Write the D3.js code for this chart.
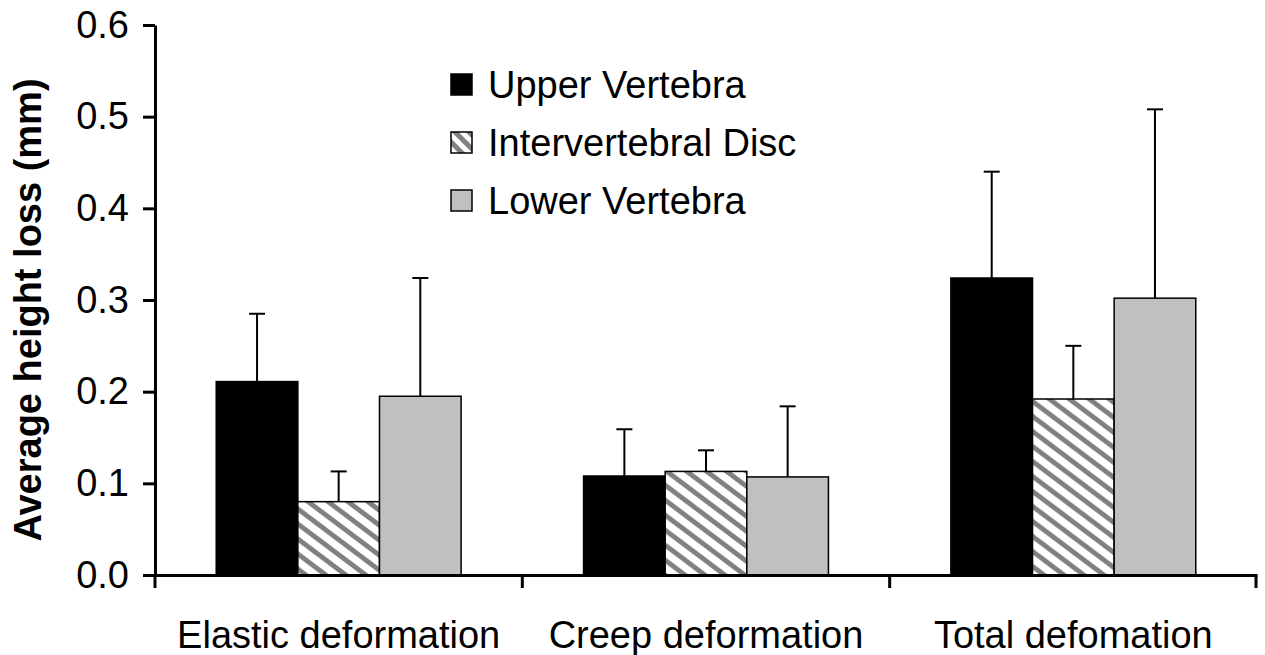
<!DOCTYPE html>
<head>
<meta charset="utf-8">
<style>
body, html {
  margin: 0;
  background: #fff;
  font-family: Arial, "Liberation Sans", sans-serif;
}
.axis path, .axis line {
  stroke: #000;
  stroke-width: 3px;
}
.axis text {
  font-size: 38px;
  fill: #000;
}
.bar {
  stroke: #000;
  stroke-width: 1.5px;
}
.err {
  stroke: #000;
  stroke-width: 2px;
}
</style>
<script src="https://d3js.org/d3.v7.min.js"></script>
</head>
<body>
<script>

//--------------------------------------
// data
var categories = ["Elastic deformation", "Creep deformation", "Total defomation"];
var series = ["Upper Vertebra", "Intervertebral Disc", "Lower Vertebra"];

var upperVals  = [0.211, 0.108, 0.324],
    upperErr   = [0.074, 0.051, 0.116];
var discVals   = [0.080, 0.113, 0.192],
    discErr    = [0.033, 0.023, 0.058];
var lowerVals  = [0.195, 0.107, 0.302],
    lowerErr   = [0.129, 0.077, 0.206];

var yTicks = [0, 0.1, 0.2, 0.3, 0.4, 0.5, 0.6];
var yTitle = "Average height loss (mm)";

//--------------------------------------
var width = 1265,
    height = 655,
    margin = {left: 155, right: 8, top: 25, bottom: 80};

var fills = ["#000", "url(#hatch)", "#c0c0c0"];

var table = series.map(function(s, i) {
  var v = [upperVals, discVals, lowerVals][i],
      e = [upperErr, discErr, lowerErr][i];
  return categories.map(function(c, j) {
    return {series: s, idx: i, cat: c, value: v[j], err: e[j]};
  });
});

var svg = d3.select("body").append("svg")
    .attr("width", width)
    .attr("height", height);

var defs = svg.append("defs");

// downward diagonal hatch, a little stretched sideways
function makeHatch(id, size, sx, sw) {
  var p = defs.append("pattern")
      .attr("id", id)
      .attr("patternUnits", "userSpaceOnUse")
      .attr("width", size)
      .attr("height", size)
      .attr("patternTransform", "scale(" + sx + ",1)");
  p.append("rect").attr("width", size).attr("height", size).attr("fill", "#fff");
  p.append("path")
      .attr("d", "M-2,-2L" + (size + 2) + "," + (size + 2) +
                 "M-2," + (size - 2) + "L2," + (size + 2) +
                 "M" + (size - 2) + ",-2L" + (size + 2) + ",2")
      .attr("stroke", "#808080")
      .attr("stroke-width", sw);
}
makeHatch("hatch", 15, 1.33, 4.3);
makeHatch("hatchSmall", 14, 1, 5);

var x0 = d3.scaleBand()
    .domain(categories)
    .range([margin.left, width - margin.right]);

// excel style gap: 150% of a bar width split on both sides
var barW = x0.bandwidth() / (series.length + 1.5);
var x1 = d3.scaleBand()
    .domain(series)
    .range([barW * 0.75, x0.bandwidth() - barW * 0.75]);

var y = d3.scaleLinear()
    .domain([0, 0.6])
    .range([height - margin.bottom, margin.top]);

//--------------------------------------
// bars
var groups = svg.selectAll("g.series")
    .data(table)
  .enter().append("g")
    .attr("class", "series");

groups.selectAll("rect")
    .data(function(d) { return d; })
  .enter().append("rect")
    .attr("class", "bar")
    .attr("x", function(d) { return x0(d.cat) + x1(d.series); })
    .attr("y", function(d) { return y(d.value); })
    .attr("width", x1.bandwidth())
    .attr("height", function(d) { return y(0) - y(d.value); })
    .attr("fill", function(d) { return fills[d.idx]; });

// error bars (plus side only)
var errs = groups.selectAll("g.errbar")
    .data(function(d) { return d; })
  .enter().append("g")
    .attr("class", "errbar");

errs.append("line")
    .attr("class", "err")
    .attr("x1", function(d) { return x0(d.cat) + x1(d.series) + x1.bandwidth() / 2; })
    .attr("x2", function(d) { return x0(d.cat) + x1(d.series) + x1.bandwidth() / 2; })
    .attr("y1", function(d) { return y(d.value); })
    .attr("y2", function(d) { return y(d.value + d.err); });

errs.append("line")
    .attr("class", "err")
    .attr("x1", function(d) { return x0(d.cat) + x1(d.series) + x1.bandwidth() / 2 - 8; })
    .attr("x2", function(d) { return x0(d.cat) + x1(d.series) + x1.bandwidth() / 2 + 8; })
    .attr("y1", function(d) { return y(d.value + d.err); })
    .attr("y2", function(d) { return y(d.value + d.err); });

//--------------------------------------
// axes
var yAxis = svg.append("g")
    .attr("class", "axis")
    .attr("transform", "translate(" + margin.left + ",0)")
    .call(d3.axisLeft(y).tickValues(yTicks).tickFormat(d3.format(".1f"))
      .tickSize(12).tickSizeOuter(0).tickPadding(14));

var xAxis = svg.append("g")
    .attr("class", "axis")
    .attr("transform", "translate(0," + y(0) + ")")
    .call(d3.axisBottom(x0).tickSize(0).tickSizeOuter(0).tickPadding(46));

// category separators
xAxis.selectAll("line.sep")
    .data(x0.domain().concat([null]))
  .enter().append("line")
    .attr("class", "sep")
    .attr("x1", function(d) { return d ? x0(d) : x0.range()[1] - 1; })
    .attr("x2", function(d) { return d ? x0(d) : x0.range()[1] - 1; })
    .attr("y1", 0)
    .attr("y2", 13);

svg.selectAll(".axis text").attr("font-family", null);

svg.append("text")
    .attr("transform", "translate(41," + ((y(0) + y(0.6)) / 2 + 10) + ") rotate(-90)")
    .attr("text-anchor", "middle")
    .style("font-size", "38px")
    .style("font-weight", "bold")
    .text(yTitle);

//--------------------------------------
// legend
var legend = svg.append("g")
    .attr("transform", "translate(451,84)");

var item = legend.selectAll("g")
    .data(series)
  .enter().append("g")
    .attr("transform", function(d, i) { return "translate(0," + (i * 58) + ")"; });

item.append("rect")
    .attr("x", 0)
    .attr("y", -10)
    .attr("width", 21)
    .attr("height", 21)
    .attr("stroke", "#000")
    .attr("stroke-width", 1.5)
    .attr("fill", function(d, i) { return i == 1 ? "url(#hatchSmall)" : fills[i]; });

item.append("text")
    .attr("x", 37)
    .attr("y", 14)
    .style("font-size", "38px")
    .text(function(d) { return d; });

</script>
</body>
